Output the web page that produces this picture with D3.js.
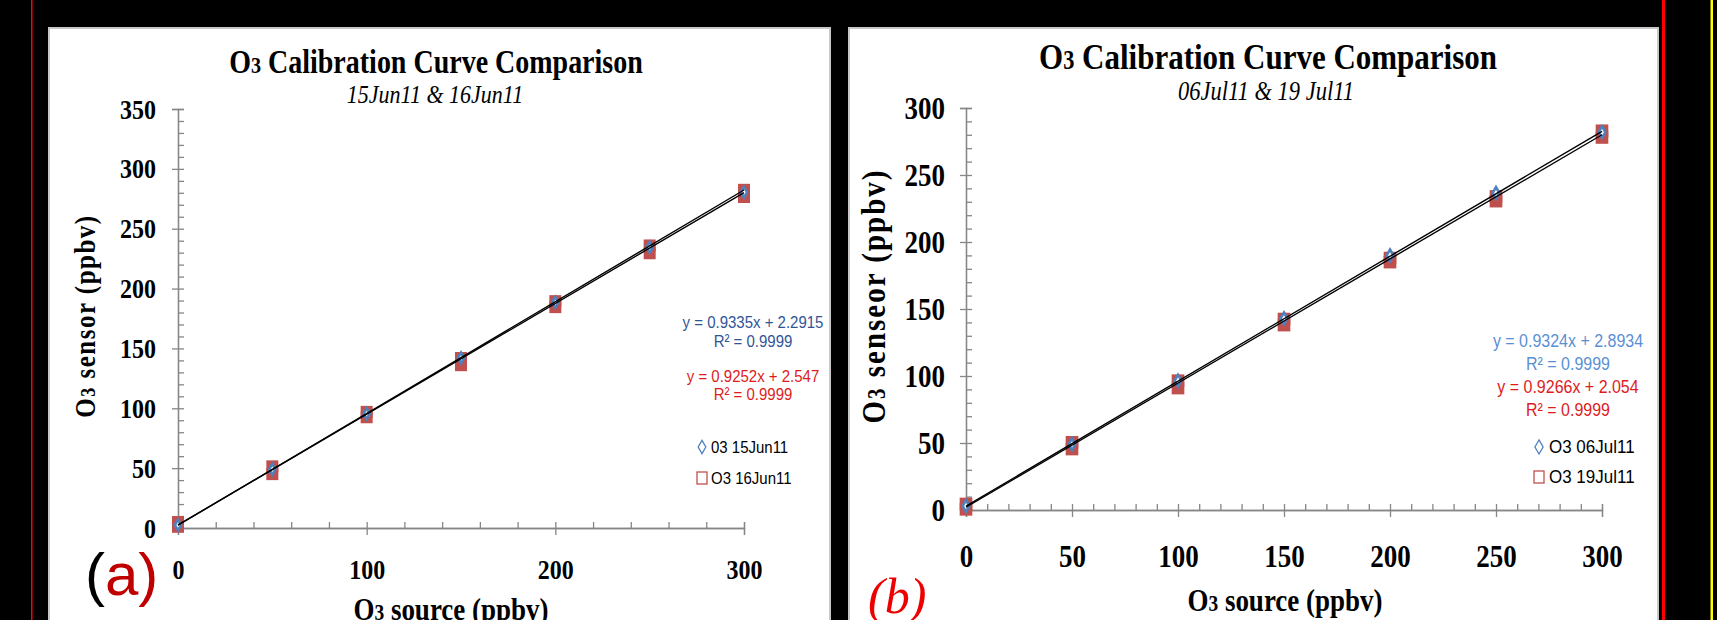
<!DOCTYPE html>
<html>
<head>
<meta charset="utf-8">
<script src="https://cdn.jsdelivr.net/npm/d3@7"></script>
<style>
  html, body { margin: 0; padding: 0; background: #000; }
  svg { display: block; }
</style>
</head>
<body>
<script>
// source concentrations (ppbv), shared by both panels
const source = [0, 50, 100, 150, 200, 250, 300]

// panel (a): 15Jun11 (one reading) and 16Jun11 (two readings per step)
const jun15 = [2.5, 49, 95.5, 142, 188.5, 234.5, 280.5]
const jun16Low = [1, 45, 92.5, 136, 184.5, 229.5, 276.5]
const jun16High = [5, 51.5, 97, 142, 189.5, 236, 282.5]
const fitA = [[0.9335, 2.2915], [0.9252, 2.547]]   // [slope, intercept]
const eqA = ['y = 0.9335x + 2.2915', 'R² = 0.9999', 'y = 0.9252x + 2.547', 'R² = 0.9999']
const legendA = ['03 15Jun11', 'O3 16Jun11']
const yTicksA = [0, 50, 100, 150, 200, 250, 300, 350]
const xTicksA = [0, 100, 200, 300]

// panel (b): 06Jul11 and 19Jul11
const jul06 = [3, 49, 96.5, 143, 190, 236.5, 282]
const jul19Low = [0.5, 45.5, 91, 138, 185, 230.5, 278]
const jul19High = [4.5, 50.5, 96.5, 142.5, 188, 234, 283]
const fitB = [[0.9324, 2.8934], [0.9266, 2.054]]
const eqB = ['y = 0.9324x + 2.8934', 'R² = 0.9999', 'y = 0.9266x + 2.054', 'R² = 0.9999']
const legendB = ['O3 06Jul11', 'O3 19Jul11']
const yTicksB = [0, 50, 100, 150, 200, 250, 300]
const xTicksB = [0, 50, 100, 150, 200, 250, 300]

const W = 1717, H = 620
const serif = "'Liberation Serif', 'Times New Roman', serif"
const narrow = "'Liberation Sans Narrow', 'Liberation Sans', Arial, sans-serif"
const axisGrey = '#868686'
const TALL = 1.18   // the source picture's serif text is drawn taller than wide

const svg = d3.select('body').append('svg').attr('width', W).attr('height', H)
svg.append('rect').attr('width', W).attr('height', H).attr('fill', '#000')

// frame strips at the sides
svg.append('rect').attr('x', 31).attr('y', 0).attr('width', 1.5).attr('height', H).attr('fill', '#ff0000')
svg.append('rect').attr('x', 1662).attr('y', 0).attr('width', 3).attr('height', H).attr('fill', '#ff0000')
svg.append('rect').attr('x', 1710.5).attr('y', 0).attr('width', 2.5).attr('height', H).attr('fill', '#ffff00')

// stretch text vertically about its own y
const stretch = (sel, k) => sel.each(function () {
  const t = d3.select(this)
  const y = +t.attr('y') || 0
  const prev = t.attr('transform') || ''
  t.attr('transform', `${prev} translate(0,${y}) scale(1,${k}) translate(0,${-y})`)
})

// title with a small "3" after the O
const titleText = (g, x, y, size, rest) => {
  const t = g.append('text')
    .attr('x', x).attr('y', y)
    .attr('text-anchor', 'middle')
    .attr('font-family', serif)
    .attr('font-weight', 'bold')
    .attr('font-size', size)
    .attr('fill', '#000')
  t.append('tspan').text('O')
  t.append('tspan').attr('font-size', size * 0.72).text('3')
  t.append('tspan').text(rest)
  return t
}

const drawPanel = p => {
  const g = svg.append('g')

  g.append('rect')
    .attr('x', p.box[0]).attr('y', p.box[1])
    .attr('width', p.box[2]).attr('height', p.box[3])
    .attr('fill', '#fff').attr('stroke', '#c8c8c8').attr('stroke-width', 2)

  const x = d3.scaleLinear().domain([0, 300]).range(p.xRange)
  const y = d3.scaleLinear().domain(p.yDomain).range(p.yRange)

  // minor + major ticks pointing inside
  const xInner = d3.axisTop(x).tickValues(d3.range(0, 301, p.xMinor)).tickSize(6).tickFormat('')
  const yInner = d3.axisRight(y).tickValues(d3.range(0, p.yDomain[1] + 1, 10)).tickSize(6).tickFormat('')
  // major ticks pointing outside, with labels
  const xOuter = d3.axisBottom(x).tickValues(p.xTicks).tickSize(7).tickPadding(p.xPad)
  const yOuter = d3.axisLeft(y).tickValues(p.yTicks).tickSize(6).tickPadding(p.yPad)

  const styleAxis = a => {
    a.selectAll('path, line').attr('stroke', axisGrey).attr('stroke-width', 1.3)
    a.selectAll('text')
      .attr('fill', '#000')
      .attr('font-family', serif)
      .attr('font-weight', 'bold')
      .attr('font-size', p.tickFont)
      .call(stretch, TALL)
  }

  g.append('g').attr('transform', `translate(0,${y(0)})`).call(xInner).call(styleAxis)
  g.append('g').attr('transform', `translate(${x(0)},0)`).call(yInner).call(styleAxis)
  g.append('g').attr('transform', `translate(0,${y(0)})`).call(xOuter).call(styleAxis)
  g.append('g').attr('transform', `translate(${x(0)},0)`).call(yOuter).call(styleAxis)

  // second series: red squares, two readings per step
  const red = d3.symbol().type(d3.symbolSquare).size(p.redSize)
  const pairs = d3.zip(source, p.low, p.high)
  g.append('g').selectAll('path')
    .data(pairs.flatMap(d => [[d[0], d[1]], [d[0], d[2]]]))
    .enter().append('path')
    .attr('d', red)
    .attr('transform', d => `translate(${x(d[0])},${y(d[1])})`)
    .attr('fill', '#c0504d')

  // first series: blue diamonds
  const blue = d3.symbol().type(d3.symbolDiamond).size(p.blueSize)
  g.append('g').selectAll('path')
    .data(d3.zip(source, p.blue))
    .enter().append('path')
    .attr('d', blue)
    .attr('transform', d => `translate(${x(d[0])},${y(d[1])})`)
    .attr('fill', '#fff')
    .attr('stroke', '#4f81bd')
    .attr('stroke-width', 2.6)

  // linear trend lines
  const line = d3.line().x(d => x(d[0])).y(d => y(d[1]))
  g.append('g').selectAll('path')
    .data(p.fits)
    .enter().append('path')
    .attr('d', f => line([0, 300].map(v => [v, f[0] * v + f[1]])))
    .attr('fill', 'none')
    .attr('stroke', '#000')
    .attr('stroke-width', 1.4)

  // titles
  titleText(g, p.title[0], p.title[1], p.title[2], p.titleRest).call(stretch, TALL)
  g.append('text')
    .attr('x', p.sub[0]).attr('y', p.sub[1])
    .attr('text-anchor', 'middle')
    .attr('font-family', serif)
    .attr('font-style', 'italic')
    .attr('font-size', p.sub[2])
    .text(p.subText)
    .call(stretch, TALL)

  titleText(g, p.xLab[0], p.xLab[1], p.xLab[2], ' source (ppbv)').call(stretch, TALL)
  titleText(g, 0, 0, p.yLab[2], p.yLabRest)
    .attr('transform', `translate(${p.yLab[0]},${p.yLab[1]}) rotate(-90)`)
    .attr('letter-spacing', p.yLab[3])
    .call(stretch, TALL)

  // fit equations
  g.append('g').selectAll('text')
    .data(p.eq)
    .enter().append('text')
    .attr('x', p.eqX)
    .attr('y', (d, i) => p.eqY[i])
    .attr('text-anchor', 'middle')
    .attr('font-family', narrow)
    .attr('font-size', p.eqFont)
    .attr('fill', (d, i) => i < 2 ? p.eqBlue : '#dd1c1c')
    .text(d => d)
    .call(stretch, 1.12)

  // legend
  const lg = g.append('g')
  lg.append('path')
    .attr('d', d3.symbol().type(d3.symbolDiamond).size(p.legFont * 3.4))
    .attr('transform', `translate(${p.leg[0]},${p.leg[1]})`)
    .attr('fill', 'none').attr('stroke', '#4f81bd').attr('stroke-width', 1.3)
  lg.append('rect')
    .attr('x', p.leg[0] - 5).attr('y', p.leg[2] - 6)
    .attr('width', 10).attr('height', 12)
    .attr('fill', 'none').attr('stroke', '#c0504d').attr('stroke-width', 1.3)
  lg.selectAll('text')
    .data(p.legend)
    .enter().append('text')
    .attr('x', p.leg[3])
    .attr('y', (d, i) => (i ? p.leg[2] : p.leg[1]) + 6)
    .attr('font-family', narrow)
    .attr('font-size', p.legFont)
    .attr('fill', '#000')
    .text(d => d)
    .call(stretch, 1.12)

  // panel letter
  p.letter(g)
}

drawPanel({
  box: [49, 28, 781, 640],
  xRange: [178, 744], yDomain: [0, 350], yRange: [528, 109],
  xTicks: xTicksA, yTicks: yTicksA, xMinor: 20,
  xPad: 24, yPad: 16, tickFont: 24,
  low: jun16Low, high: jun16High, blue: jun15, fits: fitA,
  redSize: 144, blueSize: 34,
  title: [436, 73, 28], titleRest: ' Calibration Curve Comparison',
  sub: [435, 103, 22], subText: '15Jun11 & 16Jun11',
  xLab: [451, 620, 27],
  yLab: [95, 316, 25, 1.5], yLabRest: ' sensor (ppbv)',
  eq: eqA, eqX: 753, eqY: [328, 347, 382, 400], eqFont: 15, eqBlue: '#2f5597',
  legend: legendA, legFont: 15, leg: [702, 447, 478, 711],
  letter: g => {
    const t = g.append('text').attr('x', 85).attr('y', 595)
      .attr('font-family', "'Liberation Sans', Arial, sans-serif").attr('font-size', 60)
    t.append('tspan').attr('fill', '#000').text('(')
    t.append('tspan').attr('fill', '#c00000').text('a)')
  }
})

drawPanel({
  box: [849, 28, 809, 640],
  xRange: [966, 1602], yDomain: [0, 300], yRange: [510, 108],
  xTicks: xTicksB, yTicks: yTicksB, xMinor: 10,
  xPad: 27, yPad: 15, tickFont: 27,
  low: jul19Low, high: jul19High, blue: jul06, fits: fitB,
  redSize: 160, blueSize: 40,
  title: [1268, 69, 31], titleRest: '  Calibration Curve Comparison',
  sub: [1266, 100, 22.5], subText: '06Jul11 & 19 Jul11',
  xLab: [1285, 611, 27],
  yLab: [885, 296, 29, 2], yLabRest: ' senseor (ppbv)',
  eq: eqB, eqX: 1568, eqY: [347, 370, 393, 416], eqFont: 16, eqBlue: '#5b8fd4',
  legend: legendB, legFont: 17, leg: [1539, 447, 477, 1549],
  letter: g => {
    g.append('text').attr('x', 868).attr('y', 613)
      .attr('font-family', serif).attr('font-style', 'italic').attr('font-size', 50)
      .attr('fill', '#ee0000').text('(b)')
  }
})
</script>
</body>
</html>
